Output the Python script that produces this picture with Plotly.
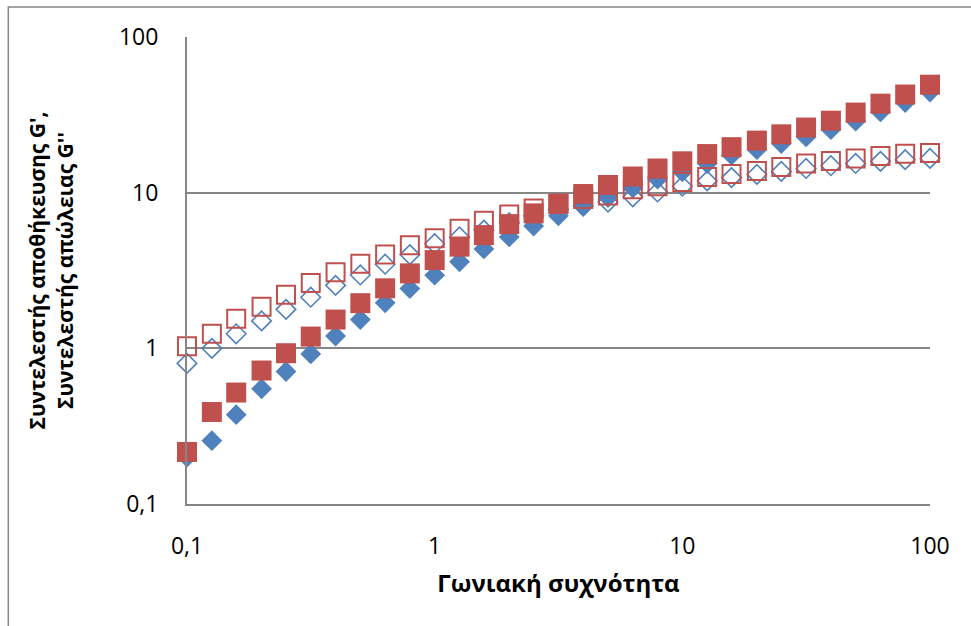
import plotly.graph_objects as go

# Angular frequency (rad/s), 10 points per decade
freq = [0.1, 0.126, 0.158, 0.2, 0.251, 0.316, 0.398, 0.501, 0.631, 0.794,
        1, 1.26, 1.58, 2, 2.51, 3.16, 3.98, 5.01, 6.31, 7.94,
        10, 12.6, 15.8, 20, 25.1, 31.6, 39.8, 50.1, 63.1, 79.4, 100]

# Storage modulus G' and loss modulus G'' for two samples
g1_storage = [0.2, 0.255, 0.375, 0.55, 0.71, 0.92, 1.2, 1.53, 1.96, 2.42,
              2.95, 3.6, 4.35, 5.2, 6.1, 7.1, 8.2, 9.3, 10.7, 12.2,
              13.6, 15.4, 17.4, 18.9, 20.7, 22.8, 25.4, 28.8, 33.0, 37.9, 44.3]
g1_loss = [0.80, 1.0, 1.24, 1.5, 1.78, 2.13, 2.54, 2.96, 3.47, 4.0,
           4.7, 5.2, 5.75, 6.4, 7.1, 7.8, 8.2, 8.7, 9.4, 10.1,
           11.0, 11.9, 12.5, 13.1, 13.7, 14.3, 14.9, 15.4, 15.9, 16.3, 16.6]
g2_storage = [0.216, 0.39, 0.52, 0.72, 0.93, 1.19, 1.53, 1.95, 2.43, 3.03,
              3.69, 4.5, 5.34, 6.28, 7.36, 8.47, 9.8, 11.2, 12.7, 14.3,
              15.9, 17.7, 19.6, 21.6, 23.7, 26.2, 29.0, 32.7, 37.3, 42.7, 49.4]
g2_loss = [1.03, 1.24, 1.55, 1.85, 2.21, 2.63, 3.08, 3.5, 4.0, 4.6,
           5.1, 5.86, 6.6, 7.25, 7.9, 8.5, 9.1, 9.6, 10.5, 11.0,
           11.7, 12.6, 13.2, 13.8, 14.6, 15.4, 16.0, 16.6, 17.2, 17.8, 18.0]

tick_vals = [0.1, 1, 10, 100]
tick_text = ["0,1", "1", "10", "100"]

BLUE = "#4F81BD"
RED = "#C0504D"
GRID = "#868686"
FONT = "Open Sans, Noto Sans, sans-serif"

fig = go.Figure()
fig.add_trace(go.Scatter(x=freq, y=g1_storage, mode="markers", name="G' 1",
                         marker=dict(symbol="diamond", size=16, color=BLUE,
                                     line=dict(width=0)),
                         cliponaxis=False))
fig.add_trace(go.Scatter(x=freq, y=g1_loss, mode="markers", name="G'' 1",
                         marker=dict(symbol="diamond-open", size=15, color=BLUE,
                                     line=dict(width=1.6, color=BLUE)),
                         cliponaxis=False))
fig.add_trace(go.Scatter(x=freq, y=g2_storage, mode="markers", name="G' 2",
                         marker=dict(symbol="square", size=20, color=RED,
                                     line=dict(width=0)),
                         cliponaxis=False))
fig.add_trace(go.Scatter(x=freq, y=g2_loss, mode="markers", name="G'' 2",
                         marker=dict(symbol="square-open", size=18, color=RED,
                                     line=dict(width=2, color=RED)),
                         cliponaxis=False))

axis_common = dict(
    type="log", range=[-1, 2], tickvals=tick_vals, ticktext=tick_text,
    showline=True, linecolor=GRID, linewidth=2,
    ticks="outside", tickcolor="rgba(0,0,0,0)", zeroline=False,
    tickfont=dict(family=FONT, size=23, color="#000000"),
)

fig.update_layout(
    width=971, height=626,
    margin=dict(l=187, r=41, t=37, b=122),
    paper_bgcolor="white", plot_bgcolor="white",
    showlegend=False,
    separators=",.",
    font=dict(family=FONT, color="#000000"),
    xaxis=dict(**axis_common, showgrid=False, ticklen=20,
               title=dict(text="<b>Γωνιακή συχνότητα</b>",
                          font=dict(family=FONT, size=24), standoff=16)),
    yaxis=dict(**axis_common, showgrid=True, gridcolor=GRID, gridwidth=1.5,
               ticklen=22,
               title=dict(text="<b>Συντελεστής αποθήκευσης G',<br>Συντελεστής απώλειας G''</b>",
                          font=dict(family=FONT, size=21), standoff=40)),
    shapes=[dict(type="rect", xref="paper", yref="paper",
                 x0=-0.2405, x1=1.2, y0=-0.5, y1=1.0645,
                 line=dict(color=GRID, width=1.5), layer="below")],
)

fig.write_html("out.html")
